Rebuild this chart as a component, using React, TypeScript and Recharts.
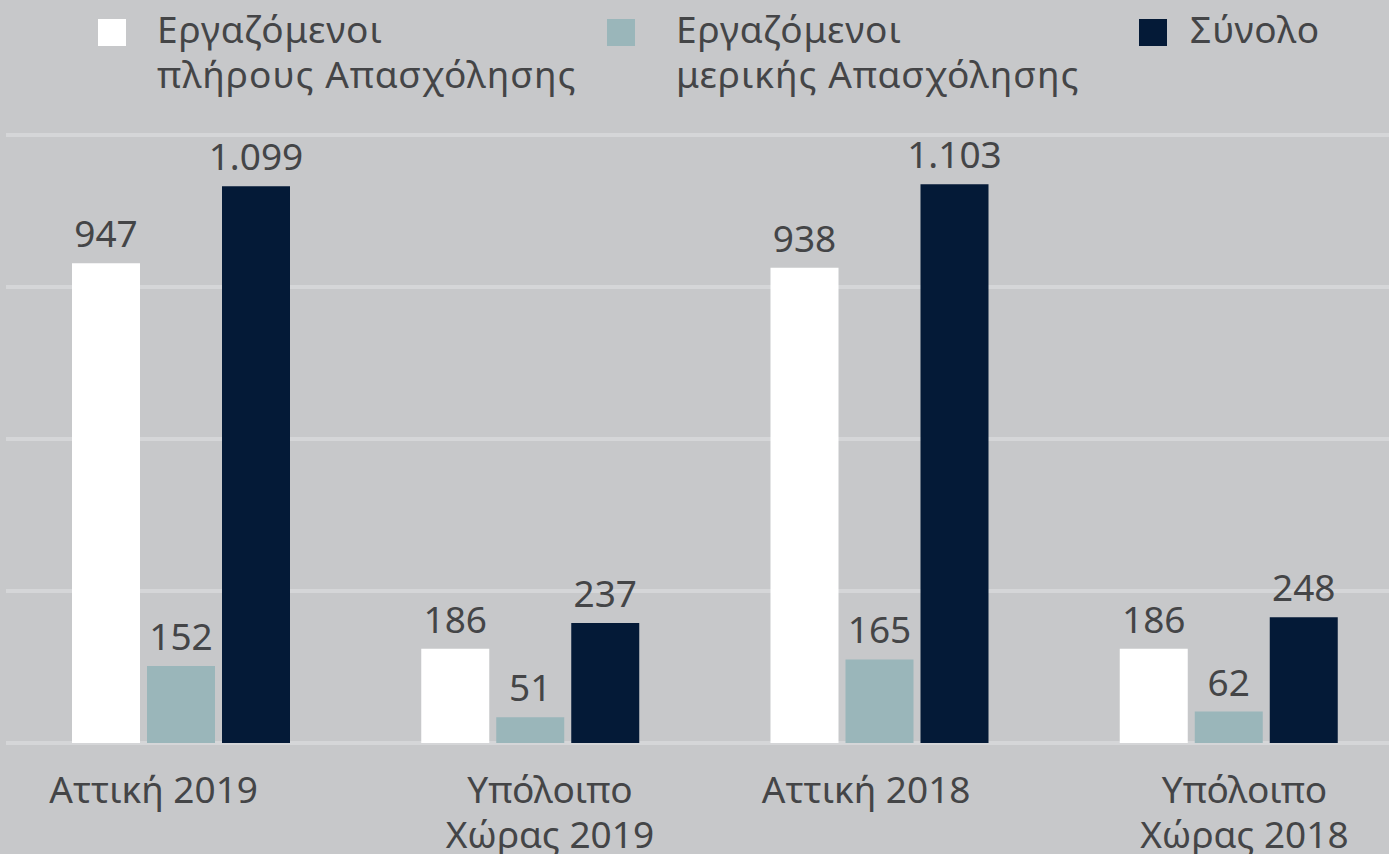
import React from 'react';
import { BarChart, Bar, XAxis, YAxis, CartesianGrid, LabelList, Legend } from 'recharts';

const categories = ['Αττική 2019', 'Υπόλοιπο Χώρας 2019', 'Αττική 2018', 'Υπόλοιπο Χώρας 2018'];
const fullTime = [947, 186, 938, 186];
const partTime = [152, 51, 165, 62];
const total = [1099, 237, 1103, 248];
const yTicks = [0, 300, 600, 900, 1200];

const seriesNames = ['Εργαζόμενοι πλήρους Απασχόλησης', 'Εργαζόμενοι μερικής Απασχόλησης', 'Σύνολο'];

const data = categories.map((c, i) => ({
  name: c,
  full: fullTime[i],
  part: partTime[i],
  total: total[i],
}));

const FONT = '"Noto Sans", sans-serif';
const TEXT = '#444547';
const BG = '#c7c8ca';
const GRID = '#d5d6d8';
const COLORS = ['#ffffff', '#9ab6ba', '#041a37'];

const fmt = (v: any) => {
  const s = String(v);
  return s.length > 3 ? s.slice(0, s.length - 3) + '.' + s.slice(s.length - 3) : s;
};

const tickShift = [-27, 20, -13, 16];

const XTick = (props: any) => {
  const { x, y, payload, index } = props;
  const label: string = payload.value;
  const words = label.split(' ');
  const lines = words.length > 2 ? [words[0], words.slice(1).join(' ')] : [label];
  const cx = x + (tickShift[index] || 0);
  return (
    <text x={cx} y={y} textAnchor="middle" fill={TEXT} fontFamily={FONT} fontSize={37}>
      {lines.map((l, i) => (
        <tspan key={i} x={cx} dy={i === 0 ? 52 : 45}>
          {l}
        </tspan>
      ))}
    </text>
  );
};

const legendLayout = [
  { sq: 98, tx: 157 },
  { sq: 607, tx: 676 },
  { sq: 1139, tx: 1190 },
];

const LegendContent = () => (
  <div style={{ position: 'relative', width: 1389, height: 110, fontFamily: FONT, fontSize: 37, color: TEXT }}>
    {seriesNames.map((n, i) => {
      const w = n.split(' ');
      const lines = w.length > 1 ? [w[0], w.slice(1).join(' ')] : [n];
      return (
        <div key={i}>
          <div
            style={{
              position: 'absolute',
              left: legendLayout[i].sq,
              top: 19,
              width: 28,
              height: 27,
              background: COLORS[i],
            }}
          />
          <div style={{ position: 'absolute', left: legendLayout[i].tx, top: 6, lineHeight: '45px', whiteSpace: 'nowrap', letterSpacing: 1 }}>
            {lines.map((l, j) => (
              <div key={j}>{l}</div>
            ))}
          </div>
        </div>
      );
    })}
  </div>
);

export default function App() {
  return (
    <div style={{ position: 'absolute', left: 0, top: 0, width: 1389, height: 854, overflow: 'hidden', background: BG }}>
      <BarChart
        width={1420}
        height={854}
        data={data}
        margin={{ top: 25, right: 17, left: 6, bottom: 81 }}
        barSize={68}
        barGap={7}
      >
        <CartesianGrid horizontal vertical={false} stroke={GRID} strokeWidth={4} />
        <YAxis hide domain={[0, 1200]} ticks={yTicks} />
        <XAxis dataKey="name" axisLine={false} tickLine={false} tick={<XTick />} interval={0} />
        <Legend
          verticalAlign="top"
          content={<LegendContent />}
          wrapperStyle={{ position: 'absolute', top: 0, left: 0, width: 1389, height: 110 }}
        />
        <Bar dataKey="full" fill={COLORS[0]} isAnimationActive={false}>
          <LabelList dataKey="full" position="top" offset={16} formatter={fmt} fill={TEXT} fontFamily={FONT} fontSize={37} />
        </Bar>
        <Bar dataKey="part" fill={COLORS[1]} isAnimationActive={false}>
          <LabelList dataKey="part" position="top" offset={16} formatter={fmt} fill={TEXT} fontFamily={FONT} fontSize={37} />
        </Bar>
        <Bar dataKey="total" fill={COLORS[2]} isAnimationActive={false}>
          <LabelList dataKey="total" position="top" offset={16} formatter={fmt} fill={TEXT} fontFamily={FONT} fontSize={37} />
        </Bar>
      </BarChart>
    </div>
  );
}
